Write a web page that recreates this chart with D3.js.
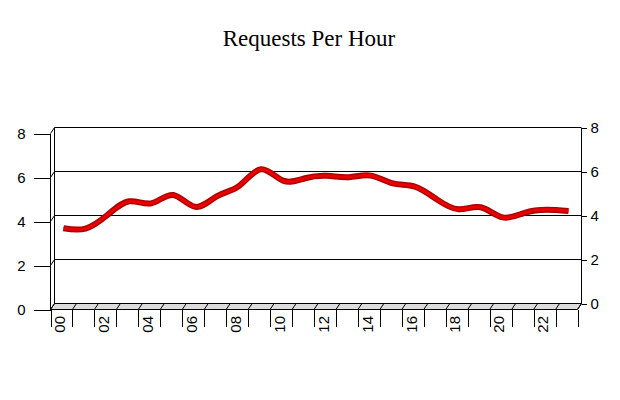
<!DOCTYPE html>
<html><head><meta charset="utf-8">
<script src="https://cdn.jsdelivr.net/npm/d3@7"></script>
<style>
html,body{margin:0;padding:0;background:#fff;}
svg{display:block;}
.ax text{font-family:"Liberation Sans",Arial,sans-serif;font-size:15px;fill:#000;}
.ax line, .crisp{shape-rendering:crispEdges;}
</style></head><body>
<svg id="c" width="620" height="400"></svg>
<script>
const hours = ["00","01","02","03","04","05","06","07","08","09","10","11","12","13","14","15","16","17","18","19","20","21","22","23"];
const requests = [3.56,3.54,4.16,4.78,4.69,5.07,4.53,5.02,5.48,6.24,5.72,5.83,5.94,5.88,5.95,5.60,5.45,4.87,4.42,4.51,4.05,4.26,4.40,4.34];
const yTicks = [0,2,4,6,8];
const xLabelHours = ["00","02","04","06","08","10","12","14","16","18","20","22"];
const title = "Requests Per Hour";

(function(){
const svg = d3.select("#c");
const pL = 50.5, pR = 577.5, pB = 309.5, pT = 133.5;
const dx = 4, dy = -6;

const x = d3.scaleBand().domain(hours).range([pL, pR]);
const xb = d3.scaleLinear().domain([0, hours.length]).range([pL, pR]);
const y = d3.scaleLinear().domain([0, 8]).range([pB, pT]);
const yBack = d3.scaleLinear().domain([0, 8]).range([pB + dy, pT + dy]);

// title
svg.append("text").attr("x", 309).attr("y", 46).attr("text-anchor", "middle")
  .attr("font-family", "'Liberation Serif','Times New Roman',serif").attr("font-size", 23)
  .text(title);

// floor
const floor = svg.append("g");
floor.append("path")
  .attr("d", `M${pL},${pB}L${pL+dx},${pB+dy}L${pR+dx},${pB+dy}L${pR},${pB}Z`)
  .attr("fill", "#dcdcdc").attr("stroke", "#000").attr("stroke-width", 1);
floor.selectAll("line.ft").data(d3.range(0, hours.length + 1)).join("line")
  .attr("x1", d => xb(d)).attr("y1", pB).attr("x2", d => xb(d) + dx).attr("y2", pB + dy)
  .attr("stroke", "#000").attr("stroke-width", 1);

// back wall frame + gridlines
const wall = svg.append("g").attr("fill", "none").attr("stroke", "#000").attr("stroke-width", 1);
wall.append("line").attr("class", "crisp").attr("x1", pL + dx).attr("x2", pL + dx).attr("y1", yBack(8)).attr("y2", yBack(0));
wall.append("line").attr("class", "crisp").attr("x1", pR + dx).attr("x2", pR + dx).attr("y1", yBack(8)).attr("y2", yBack(0));
wall.append("line").attr("class", "crisp").attr("x1", pL).attr("x2", pL).attr("y1", y(8)).attr("y2", y(0));
wall.selectAll("path.g").data(yTicks.filter(v => v > 0)).join("path")
  .attr("d", v => `M${pL},${y(v)}L${pL+dx},${yBack(v)}L${pR+dx},${yBack(v)}`);

// left axis
svg.append("g").attr("class", "ax").attr("transform", `translate(${pL},0)`)
  .call(d3.axisLeft(y).tickValues(yTicks).tickSize(17).tickPadding(8).tickFormat(d3.format("d")))
  .call(g => g.select(".domain").remove())
  .call(g => g.selectAll("line").attr("stroke", "#000"));

// right axis
svg.append("g").attr("class", "ax").attr("transform", `translate(${pR + dx},0)`)
  .call(d3.axisRight(yBack).tickValues(yTicks).tickSize(5).tickPadding(4).tickFormat(d3.format("d")))
  .call(g => g.select(".domain").remove())
  .call(g => g.selectAll("line").attr("stroke", "#000"));

// bottom axis ticks
svg.append("g").attr("class", "ax").attr("transform", `translate(0,${pB})`)
  .call(d3.axisBottom(xb).tickValues(d3.range(0, hours.length + 1)).tickSize(17.5).tickFormat(""))
  .call(g => g.select(".domain").remove())
  .call(g => g.selectAll("line").attr("stroke", "#000"));

// bottom labels (rotated)
svg.append("g").attr("class", "ax").selectAll("text").data(xLabelHours).join("text")
  .attr("transform", d => `translate(${x(d) + x.bandwidth()/2 - 1.8},316) rotate(-90)`)
  .attr("text-anchor", "end").attr("dominant-baseline", "central")
  .text(d => d);

// line
const line = d3.line()
  .x((d, i) => x(hours[i]) + x.bandwidth()/2 + dx/2)
  .y(d => y(d) + dy/2)
  .curve(d3.curveNatural);
svg.append("path").datum(requests).attr("d", line)
  .attr("fill", "none").attr("stroke", "#a80000").attr("stroke-width", 6).attr("stroke-linejoin", "round");
svg.append("path").datum(requests).attr("d", line)
  .attr("fill", "none").attr("stroke", "#e80000").attr("stroke-width", 3.2).attr("stroke-linejoin", "round");
})();
</script>
</body></html>
